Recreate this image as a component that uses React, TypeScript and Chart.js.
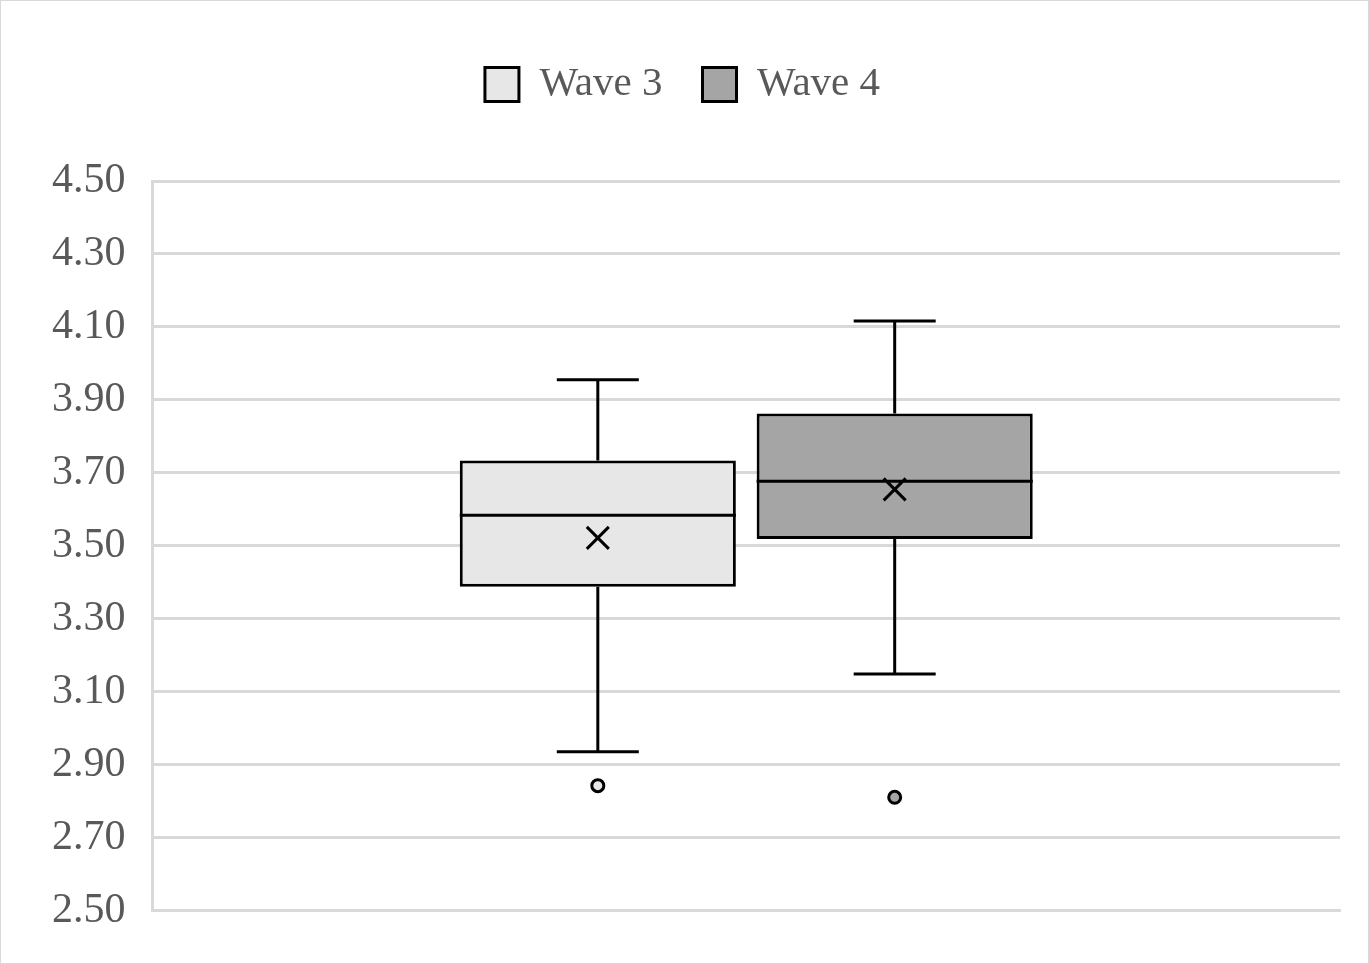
import { useEffect, useRef } from 'react';
import { Chart, registerables, type Plugin } from 'chart.js';

Chart.register(...registerables);

const categories = [''];
const seriesNames = ['Wave 3', 'Wave 4'];
const fills = ['#e7e7e7', '#a5a5a5'];
const mins = [2.936, 3.149];
const q1s = [3.388, 3.519];
const medians = [3.584, 3.677];
const q3s = [3.734, 3.863];
const maxes = [3.955, 4.116];
const means = [3.522, 3.655];
const outliers = [[2.843], [2.811]];

const legendGap: Plugin = {
  id: 'legendGap',
  afterInit(chart: any) {
    const legend = chart.legend;
    if (!legend) return;
    const orig = legend.fit;
    legend.fit = function () {
      orig.call(this);
      this.height += 66;
    };
  }
};

const boxExtras: Plugin = {
  id: 'boxExtras',
  afterDatasetsDraw(chart) {
    const ctx = chart.ctx;
    const y = chart.scales.y;
    ctx.save();
    ctx.strokeStyle = '#000';
    ctx.lineWidth = 3;
    seriesNames.forEach((_, i) => {
      const bar: any = chart.getDatasetMeta(i).data[0];
      const x = bar.x;
      const half = bar.width / 2;
      const cap = 41;
      ctx.beginPath();
      ctx.moveTo(x, y.getPixelForValue(q3s[i]));
      ctx.lineTo(x, y.getPixelForValue(maxes[i]));
      ctx.moveTo(x - cap, y.getPixelForValue(maxes[i]));
      ctx.lineTo(x + cap, y.getPixelForValue(maxes[i]));
      ctx.moveTo(x, y.getPixelForValue(q1s[i]));
      ctx.lineTo(x, y.getPixelForValue(mins[i]));
      ctx.moveTo(x - cap, y.getPixelForValue(mins[i]));
      ctx.lineTo(x + cap, y.getPixelForValue(mins[i]));
      ctx.moveTo(x - half, y.getPixelForValue(medians[i]));
      ctx.lineTo(x + half, y.getPixelForValue(medians[i]));
      const my = y.getPixelForValue(means[i]);
      const m = 11;
      ctx.moveTo(x - m, my - m);
      ctx.lineTo(x + m, my + m);
      ctx.moveTo(x + m, my - m);
      ctx.lineTo(x - m, my + m);
      ctx.stroke();
      outliers[i].forEach((v) => {
        ctx.beginPath();
        ctx.arc(x, y.getPixelForValue(v), 6, 0, Math.PI * 2);
        ctx.fillStyle = fills[i];
        ctx.fill();
        ctx.stroke();
      });
    });
    ctx.restore();
  }
};

export default function App() {
  const ref = useRef<HTMLCanvasElement>(null);

  useEffect(() => {
    document.body.style.margin = '0';
    if (!ref.current) return;
    const chart = new Chart(ref.current, {
      type: 'bar',
      data: {
        labels: categories,
        datasets: seriesNames.map((name, i) => ({
          label: name,
          data: [[q1s[i], q3s[i]]] as any,
          backgroundColor: fills[i],
          borderColor: '#000',
          borderWidth: 3,
          borderSkipped: false,
          barPercentage: 0.93,
          categoryPercentage: 0.5
        }))
      },
      options: {
        responsive: true,
        maintainAspectRatio: false,
        animation: false,
        layout: { padding: { left: 24, right: 28, top: 23, bottom: 38 } },
        plugins: {
          tooltip: { enabled: false },
          legend: {
            position: 'top',
            labels: {
              boxWidth: 34,
              boxHeight: 34,
              padding: 40,
              color: '#595959',
              font: { family: 'Liberation Serif', size: 41 },
              generateLabels: () =>
                seriesNames.map((n, i) => ({
                  text: n,
                  fillStyle: fills[i],
                  strokeStyle: '#000',
                  lineWidth: 3,
                  fontColor: '#595959',
                  datasetIndex: i
                }))
            }
          }
        },
        scales: {
          x: {
            ticks: { display: false },
            grid: { display: false },
            border: { display: true, color: '#d9d9d9', width: 3 }
          },
          y: {
            min: 2.5,
            max: 4.5,
            ticks: {
              stepSize: 0.2,
              padding: 27,
              color: '#595959',
              font: { family: 'Liberation Serif', size: 42 },
              callback: (v) => Number(v).toFixed(2)
            },
            grid: { color: '#d9d9d9', lineWidth: 3, drawTicks: false },
            border: { display: true, color: '#d9d9d9', width: 3 }
          }
        }
      },
      plugins: [legendGap, boxExtras]
    });
    return () => chart.destroy();
  }, []);

  return (
    <div style={{ width: 1367, height: 962, border: '1px solid #d9d9d9', background: '#fff' }}>
      <canvas ref={ref} />
    </div>
  );
}
